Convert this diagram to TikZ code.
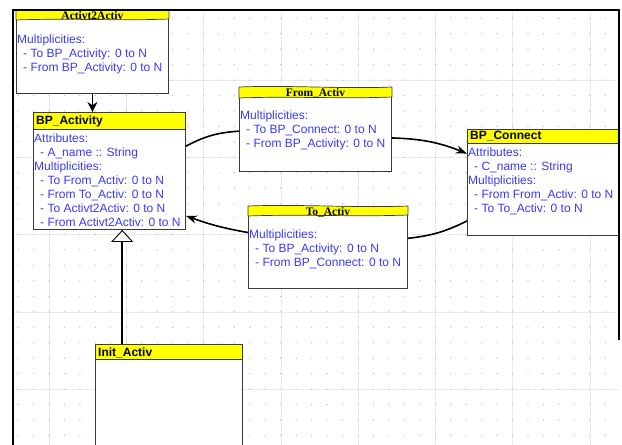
\documentclass[tikz,border=0pt]{standalone}
\usepackage{fontspec}
\setmainfont{Liberation Serif}
\setsansfont{Liberation Sans}
\usetikzlibrary{arrows.meta,calc,positioning}
\definecolor{ink}{HTML}{3A3A3A}
\definecolor{txtblue}{HTML}{3A3AF5}
\definecolor{head}{HTML}{FFFF00}
\definecolor{gridline}{HTML}{EAEAEA}
\definecolor{griddot}{HTML}{BDBDBD}

\begin{document}
\begin{tikzpicture}[x=1pt,y=-1pt,>=Stealth,
  box/.style={draw=ink,fill=white,line width=0.9pt,inner sep=0pt,anchor=north west},
  clshead/.style={draw=ink,fill=head,line width=0.9pt},
  ashead/.style={draw=ink,fill=head,line width=0.7pt},
  clstitle/.style={font=\sffamily\bfseries\fontsize{12}{14}\selectfont,inner sep=0pt,anchor=base west},
  astitle/.style={font=\rmfamily\bfseries\fontsize{11.5}{13}\selectfont,inner sep=0pt},
  body/.style={font=\sffamily\fontsize{12}{14}\selectfont,text=txtblue,align=left,inner sep=0pt,anchor=north west},
  link/.style={line width=1.6pt,black}]
\useasboundingbox (0,0) rectangle (622,445);
\clip (0,0) rectangle (622,445);
% grid of the drawing area
\foreach \k in {0,...,7} {\draw[gridline] ({49+77.25*\k},10) -- ({49+77.25*\k},445);}
\foreach \k in {0,...,4} {\draw[gridline] (13,{80+77.25*\k}) -- (619,{80+77.25*\k});}
\foreach \i in {0,...,38} \foreach \j in {0,...,27} {\fill[griddot] ({18.1+15.45*\i},{18.2+15.45*\j}) circle[radius=0.7pt];}
% Activt2Activ
\node[box,minimum width=152pt,minimum height=83pt] (a2a) at (16,10) {};
\filldraw[ashead] (a2a.north west) .. controls +(50,-2) and +(-50,2) .. (a2a.north east) -- ++(0,9) .. controls +(-50,2) and +(50,-2) .. ($(a2a.north west)+(0,10)$) -- cycle;
\node[astitle] (a2a-t) at ($(a2a.north)+(0,6)$) {Activt2Activ};
\node[body] (a2a-x) at ($(a2a.north west)+(1,24.4)$) {Multiplicities:\\\hspace*{6pt}- To BP\_Activity: 0 to N\\\hspace*{6pt}- From BP\_Activity: 0 to N};
% BP_Activity
\node[box,minimum width=152pt,minimum height=117pt] (act) at (33,112) {};
\filldraw[clshead] (act.north west) rectangle ($(act.north east)+(0,17)$);
\node[clstitle] (act-t) at ($(act.north west)+(3,12.5)$) {BP\_Activity};
\node[body] (act-x) at ($(act.north west)+(1,22)$) {Attributes:\\\hspace*{6pt}- A\_name :: String\\Multiplicities:\\\hspace*{6pt}- To From\_Activ: 0 to N\\\hspace*{6pt}- From To\_Activ: 0 to N\\\hspace*{6pt}- To Activt2Activ: 0 to N\\\hspace*{6pt}- From Activt2Activ: 0 to N};
% From_Activ
\node[box,minimum width=152pt,minimum height=84pt] (from) at (239,87) {};
\filldraw[ashead] (from.north west) .. controls +(50,-2) and +(-50,2) .. (from.north east) -- ++(0,10) .. controls +(-50,2) and +(50,-2) .. ($(from.north west)+(0,11)$) -- cycle;
\node[astitle] (from-t) at ($(from.north)+(0,6.5)$) {From\_Activ};
\node[body] (from-x) at ($(from.north west)+(1,23.4)$) {Multiplicities:\\\hspace*{6pt}- To BP\_Connect: 0 to N\\\hspace*{6pt}- From BP\_Activity: 0 to N};
% To_Activ
\node[box,minimum width=159pt,minimum height=82pt] (to) at (248,206) {};
\filldraw[ashead] (to.north west) .. controls +(52,-2) and +(-52,2) .. (to.north east) -- ++(0,9) .. controls +(-52,2) and +(52,-2) .. ($(to.north west)+(0,10)$) -- cycle;
\node[astitle] (to-t) at ($(to.north)+(0,6)$) {To\_Activ};
\node[body] (to-x) at ($(to.north west)+(1,23.4)$) {Multiplicities:\\\hspace*{6pt}- To BP\_Activity: 0 to N\\\hspace*{6pt}- From BP\_Connect: 0 to N};
% BP_Connect
\node[box,minimum width=151pt,minimum height=106pt] (bc) at (467,129) {};
\filldraw[clshead] (bc.north west) rectangle ($(bc.north east)+(0,14)$);
\node[clstitle] (bc-t) at ($(bc.north west)+(3,10)$) {BP\_Connect};
\node[body] (bc-x) at ($(bc.north west)+(1,18.4)$) {Attributes:\\\hspace*{6pt}- C\_name :: String\\Multiplicities:\\\hspace*{6pt}- From From\_Activ: 0 to N\\\hspace*{6pt}- To To\_Activ: 0 to N};
% Init_Activ
\node[box,minimum width=147pt,minimum height=110pt] (init) at (95,344) {};
\filldraw[clshead] (init.north west) rectangle ($(init.north east)+(0,15)$);
\node[clstitle] (init-t) at ($(init.north west)+(3,12)$) {Init\_Activ};
% links
\draw[link,-{Stealth[length=10pt,width=10pt]}] (a2a.south) -- (a2a.south |- act.north);
\draw[link] ($(act.north east)!0.29!(act.south east)$) to[bend left=12] ($(from.north west)!0.52!(from.south west)$);
\draw[link,-{Stealth[length=11pt,width=8pt]}] ($(from.north east)!0.6!(from.south east)$) to[bend left=10] ($(bc.north west)!0.23!(bc.south west)$);
\draw[link] ($(bc.north west)!0.86!(bc.south west)$) to[bend left=10] ($(to.north east)!0.39!(to.south east)$);
\draw[link,-{Stealth[length=11pt,width=8pt]}] ($(to.north west)!0.32!(to.south west)$) to[bend left=5] ($(act.north east)!0.88!(act.south east)$);
\coordinate (init-up) at ($(init.north west)!0.184!(init.north east)$);
\draw[link,-{Triangle[open,length=12pt,width=22pt,line width=0.9pt]}] (init-up) -- (init-up |- act.south);
% window frame
\draw[line width=2.6pt,black] (13,445) -- (13,10) -- (619,10) -- (619,340);
\end{tikzpicture}
\end{document}
